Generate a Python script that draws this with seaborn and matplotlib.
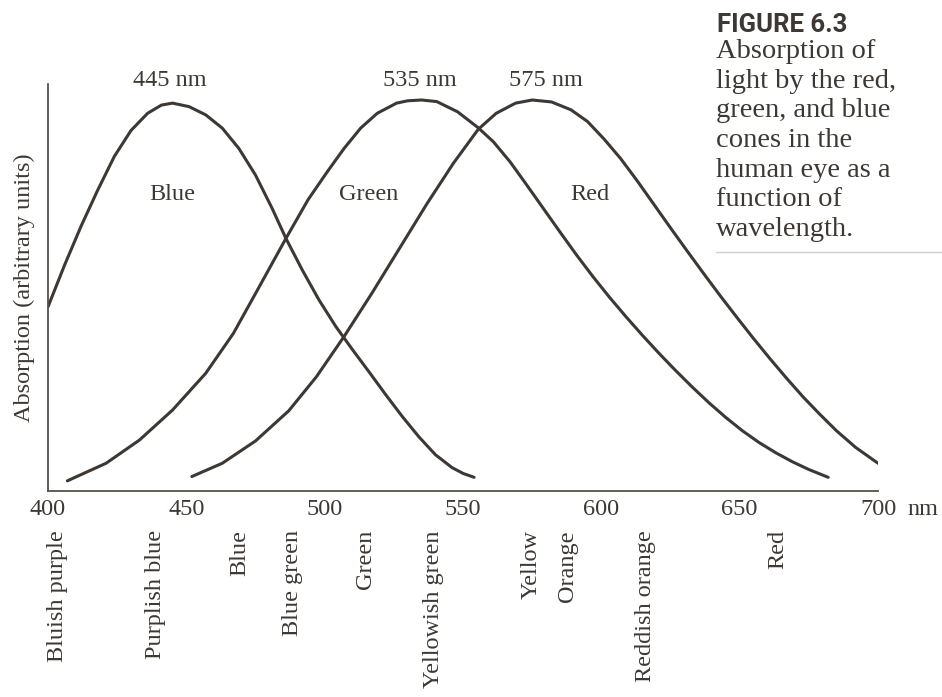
import numpy as np
import pandas as pd
import matplotlib
matplotlib.use("Agg")
import matplotlib.pyplot as plt
import seaborn as sns

# Cone absorption curves (wavelength in nm, absorption in arbitrary units)
blue_wl = [400, 406, 412, 418, 424, 430, 436, 441, 445, 451, 457, 463, 469, 475,
           481, 486, 492, 498, 504, 510, 516, 522, 528, 534, 540, 546, 550, 554]
blue_abs = [0.471, 0.578, 0.678, 0.770, 0.856, 0.922, 0.966, 0.987, 0.992, 0.983,
            0.962, 0.928, 0.876, 0.808, 0.723, 0.646, 0.564, 0.488, 0.421, 0.362,
            0.305, 0.247, 0.191, 0.139, 0.093, 0.060, 0.045, 0.035]

green_wl = [407, 421, 433, 445, 457, 467, 475, 486, 494, 501, 507, 513, 519, 526,
            530, 535, 540.5, 548, 555.5, 561, 567, 573, 579, 585, 591, 597, 603,
            609, 615, 621, 627, 633, 639, 645, 651, 657, 663, 669, 675, 682]
green_abs = [0.026, 0.071, 0.130, 0.207, 0.301, 0.403, 0.505, 0.646, 0.745, 0.817,
             0.876, 0.928, 0.966, 0.992, 0.998, 1.000, 0.996, 0.970, 0.929, 0.893,
             0.842, 0.783, 0.723, 0.663, 0.604, 0.548, 0.495, 0.445, 0.397, 0.351,
             0.307, 0.265, 0.225, 0.188, 0.154, 0.124, 0.098, 0.075, 0.055, 0.035]

red_wl = [452, 463, 475, 487, 497, 507, 517, 527, 537, 546.5, 555.5, 562, 569, 575,
          582, 589, 595, 601, 607, 613, 619, 625, 631, 637, 643, 649, 655, 661,
          667, 673, 679, 685, 692, 700]
red_abs = [0.037, 0.071, 0.128, 0.205, 0.292, 0.395, 0.505, 0.620, 0.735, 0.838,
           0.925, 0.966, 0.992, 1.000, 0.995, 0.975, 0.945, 0.900, 0.850, 0.793,
           0.733, 0.673, 0.614, 0.556, 0.499, 0.444, 0.390, 0.338, 0.288, 0.240,
           0.196, 0.154, 0.111, 0.071]

cones = ["Blue", "Green", "Red"]
peak_nm = [445, 535, 575]

# Axis ticks and perceived colour names along the wavelength axis
tick_nm = [400, 450, 500, 550, 600, 650, 700]
hue_names = ["Bluish purple", "Purplish blue", "Blue", "Blue green", "Green",
             "Yellowish green", "Yellow", "Orange", "Reddish orange", "Red"]
hue_nm = [403.3, 439.0, 469.4, 488.4, 514.6, 539.5, 574.6, 587.6, 615.8, 663.8]

caption_title = "FIGURE 6.3"
caption_lines = ["Absorption of", "light by the red,", "green, and blue",
                 "cones in the", "human eye as a", "function of", "wavelength."]

df = pd.concat([
    pd.DataFrame({"wavelength": blue_wl, "absorption": blue_abs, "cone": "Blue"}),
    pd.DataFrame({"wavelength": green_wl, "absorption": green_abs, "cone": "Green"}),
    pd.DataFrame({"wavelength": red_wl, "absorption": red_abs, "cone": "Red"}),
], ignore_index=True)

sns.set_theme(style="white")
plt.rcParams["font.family"] = ["Liberation Serif", "DejaVu Serif"]

INK = "#3d3834"
AXIS = "#55504b"
FS = 17.5
W, H = 942, 697
fig = plt.figure(figsize=(W / 100, H / 100), dpi=100)
fig.patch.set_facecolor("white")

# axes box in pixel terms
left, right, top, bottom = 48, 878, 84, 491
ax = fig.add_axes([left / W, (H - bottom) / H, (right - left) / W, (bottom - top) / H])
ax.set_facecolor("white")

sns.lineplot(data=df, x="wavelength", y="absorption", hue="cone",
             palette={c: INK for c in cones}, estimator=None, sort=False,
             linewidth=2.2, legend=False, ax=ax)

ax.set_xlim(400, 700)
ax.set_ylim(0, (bottom - top) / 391)

for s in ["top", "right"]:
    ax.spines[s].set_visible(False)
for s in ["left", "bottom"]:
    ax.spines[s].set_color(AXIS)
    ax.spines[s].set_linewidth(1.3)

ax.set_xticks(tick_nm)
ax.set_xticklabels([str(t) for t in tick_nm])
ax.set_yticks([])
ax.tick_params(axis="x", direction="in", length=10, width=1.1, color=AXIS,
               pad=6, labelsize=FS, labelcolor=INK)
ax.set_xlabel("")
ax.set_ylabel("Absorption (arbitrary units)", fontsize=FS, color=INK, labelpad=9)

# unit after the last tick value, aligned with the tick labels
ax.annotate("nm", xy=(710.5, 0), xycoords=("data", "axes fraction"),
            xytext=(0, -6), textcoords="offset points", fontsize=FS, color=INK,
            ha="left", va="top", annotation_clip=False)

# peak wavelength labels and cone names
peak_label_x = [444, 534.4, 580]
for x, nm in zip(peak_label_x, peak_nm):
    ax.text(x, 1.035, f"{nm} nm", fontsize=FS, color=INK, ha="center",
            va="baseline", clip_on=False)

cone_label_x = [445, 516, 596]
for x, name in zip(cone_label_x, cones):
    ax.text(x, 0.745, name, fontsize=FS, color=INK, ha="center", va="baseline")

# perceived colour names under the axis
name_top = (bottom - 530) / (bottom - top)
for x, name in zip(hue_nm, hue_names):
    ax.text(x, name_top, name, transform=ax.get_xaxis_transform(), rotation=90,
            fontsize=FS, color=INK, ha="center", va="top", clip_on=False)

# caption block
fig.text(717 / W, 1 - 32 / H, caption_title, fontsize=18.5, fontweight="bold",
         family=["Roboto", "DejaVu Sans"], color=INK, ha="left", va="baseline")
for i, line in enumerate(caption_lines):
    fig.text(716 / W, 1 - (58 + 29.7 * i) / H, line, fontsize=20.5, color=INK,
             ha="left", va="baseline")
fig.add_artist(plt.Line2D([716 / W, 1.0], [1 - 252 / H, 1 - 252 / H],
                          color="#cfcfcf", linewidth=1.0))

fig.savefig("out.png", dpi=100, facecolor="white")
